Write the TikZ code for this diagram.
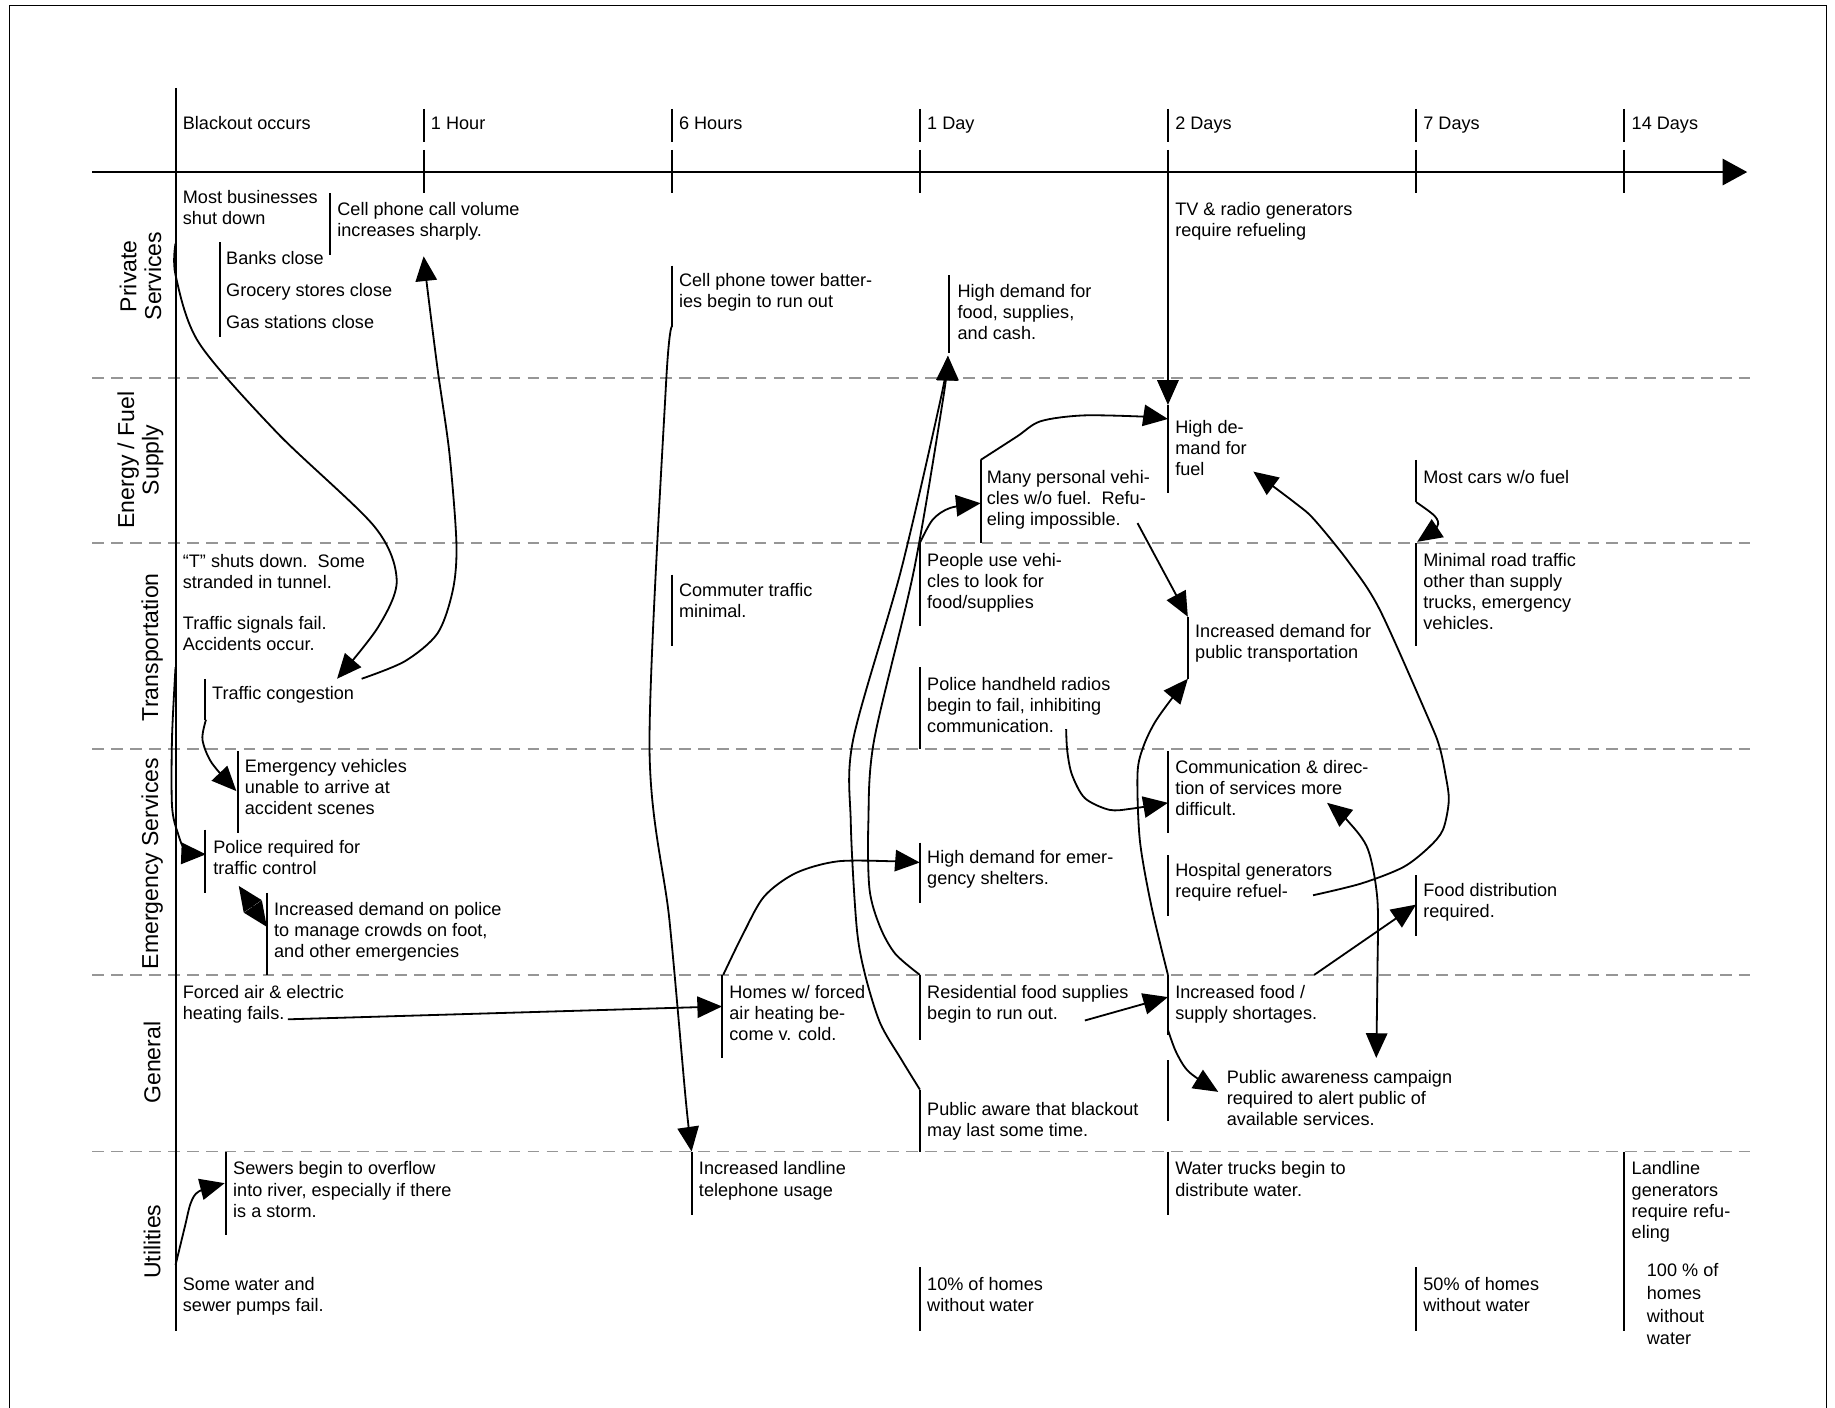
\documentclass[tikz,border=0pt]{standalone}
\usepackage{fontspec}
\setmainfont{Liberation Sans}
\usepackage{tikz}
\usetikzlibrary{arrows.meta}
\definecolor{rowline}{RGB}{150,150,150}
\newcommand{\evtext}[1]{\begin{tabular}[t]{@{}l@{}}#1\end{tabular}}
\tikzset{
  ev/.style={anchor=base west, inner sep=0pt, font=\fontsize{11}{12.8}\selectfont},
  row/.style={rotate=90, align=center, inner sep=0pt, font=\fontsize{14}{15}\selectfont},
  bar/.style={line width=1.2pt},
  link/.style={line width=1.1pt, -{Triangle[length=15pt,width=13pt]}},
  both/.style={line width=1.1pt, {Triangle[length=15pt,width=13pt]}-{Triangle[length=15pt,width=13pt]}},
  divider/.style={rowline, line width=1pt, dash pattern=on 7pt off 4.5pt}
}

\begin{document}
\begin{tikzpicture}[x=0.025cm, y=-0.025cm]
\useasboundingbox (0,0) rectangle (1568,1203);
\draw[line width=0.6pt] (8,1203) -- (8,5) -- (1561,5) -- (1561,1203);

\foreach \y in {323,464,640,833,984}
  \draw[divider] (79,\y) -- (1495,\y);

\draw[line width=1.4pt, -{Triangle[length=15pt,width=16pt]}] (79,147) -- (1493,147);
\draw[bar] (150,75) -- (150,1137);
\node[ev] (t0) at (156,111) {Blackout occurs};
\foreach \x/\t [count=\i] in {362/1 Hour, 574/6 Hours, 786/1 Day, 998/2 Days, 1210/7 Days, 1388/14 Days} {
  \draw[bar] (\x,93) -- (\x,121);
  \draw[bar] (\x,128) -- (\x,165);
  \node[ev] (tick\i) at (\x+6,111) {\t};
}

\node[row] (lpriv) at (120,236) {Private\\Services};
\node[row] (lfuel) at (120,393) {Energy / Fuel\\Supply};
\node[row] (ltrans) at (130,553) {Transportation};
\node[row] (lemerg) at (130,738) {Emergency Services};
\node[row] (lgen) at (130,908) {General};
\node[row] (lutil) at (130,1061) {Utilities};

\node[ev] (shut) at (156,174) {\evtext{Most businesses\\shut down}};
\draw[bar] (282,165) -- (282,218);
\node[ev] (cell) at (288,184) {\evtext{Cell phone call volume\\increases sharply.}};
\draw[bar] (188,207) -- (188,288);
\node[ev, font=\fontsize{11}{19.4}\selectfont] (close) at (193,226) {\evtext{Banks close\\Grocery stores close\\Gas stations close}};
\draw[bar] (998,165) -- (998,218);
\node[ev] (tvgen) at (1004,184) {\evtext{TV \& radio generators\\require refueling}};
\draw[bar] (574,227) -- (574,279);
\node[ev] (tower) at (580,245) {\evtext{Cell phone tower batter-\\ies begin to run out}};
\draw[bar] (811,235) -- (811,302);
\node[ev] (hdfood) at (818,254) {\evtext{High demand for\\food, supplies,\\and cash.}};

\draw[bar] (998,346) -- (998,421);
\node[ev] (hdfuel) at (1004,370) {\evtext{High de-\\mand for\\fuel}};
\draw[bar] (838,393) -- (838,464);
\node[ev] (nofuel) at (843,413) {\evtext{Many personal vehi-\\cles w/o fuel.\ \ Refu-\\eling impossible.}};
\draw[bar] (1210,393) -- (1210,429);
\node[ev] (mostcars) at (1216,413) {Most cars w/o fuel};

\node[ev] (tdown) at (156,485) {\evtext{“T” shuts down.\ \ Some\\stranded in tunnel.}};
\node[ev] (signals) at (156,538) {\evtext{Traffic signals fail.\\Accidents occur.}};
\draw[bar] (175,580) -- (175,615);
\node[ev] (congest) at (181,598) {Traffic congestion};
\draw[bar] (574,491) -- (574,552);
\node[ev] (commute) at (580,510) {\evtext{Commuter traffic\\minimal.}};
\draw[bar] (786,464) -- (786,535);
\node[ev] (search) at (792,484) {\evtext{People use vehi-\\cles to look for\\food/supplies}};
\draw[bar] (786,570) -- (786,640);
\node[ev] (radios) at (792,590) {\evtext{Police handheld radios\\begin to fail, inhibiting\\communication.}};
\draw[bar] (1015,527) -- (1015,580);
\node[ev] (transit) at (1021,545) {\evtext{Increased demand for\\public transportation}};
\draw[bar] (1210,464) -- (1210,552);
\node[ev] (minroad) at (1216,484) {\evtext{Minimal road traffic\\other than supply\\trucks, emergency\\vehicles.}};

\draw[bar] (203,642) -- (203,712);
\node[ev] (evunable) at (209,660) {\evtext{Emergency vehicles\\unable to arrive at\\accident scenes}};
\draw[bar] (175,709) -- (175,763);
\node[ev] (police) at (182,729) {\evtext{Police required for\\traffic control}};
\draw[bar] (228,763) -- (228,833);
\node[ev] (crowds) at (234,782) {\evtext{Increased demand on police\\to manage crowds on foot,\\and other emergencies}};
\draw[bar] (998,642) -- (998,712);
\node[ev] (comms) at (1004,661) {\evtext{Communication \& direc-\\tion of services more\\difficult.}};
\draw[bar] (786,720) -- (786,772);
\node[ev] (shelter) at (792,738) {\evtext{High demand for emer-\\gency shelters.}};
\draw[bar] (998,731) -- (998,783);
\node[ev] (hospital) at (1004,749) {\evtext{Hospital generators\\require refuel-}};
\draw[bar] (1210,748) -- (1210,800);
\node[ev] (fooddist) at (1216,766) {\evtext{Food distribution\\required.}};

\node[ev] (heating) at (156,853) {\evtext{Forced air \& electric\\heating fails.}};
\draw[bar] (617,833) -- (617,904);
\node[ev] (cold) at (623,853) {\evtext{Homes w/ forced\\air heating be-\\come v. cold.}};
\draw[bar] (786,833) -- (786,889);
\node[ev] (runout) at (792,853) {\evtext{Residential food supplies\\begin to run out.}};
\draw[bar] (998,833) -- (998,884);
\node[ev] (shortage) at (1004,853) {\evtext{Increased food /\\supply shortages.}};
\draw[bar] (998,906) -- (998,958);
\node[ev] (campaign) at (1048,926) {\evtext{Public awareness campaign\\required to alert public of\\available services.}};
\draw[bar] (786,931) -- (786,984);
\node[ev] (aware) at (792,953) {\evtext{Public aware that blackout\\may last some time.}};

\draw[bar] (193,984) -- (193,1055);
\node[ev] (sewers) at (199,1004) {\evtext{Sewers begin to overflow\\into river, especially if there\\is a storm.}};
\node[ev] (pumps) at (156,1103) {\evtext{Some water and\\sewer pumps fail.}};
\draw[bar] (591,984) -- (591,1038);
\node[ev] (landline) at (597,1004) {\evtext{Increased landline\\telephone usage}};
\draw[bar] (998,984) -- (998,1038);
\node[ev] (trucks) at (1004,1004) {\evtext{Water trucks begin to\\distribute water.}};
\draw[bar] (1388,984) -- (1388,1137);
\node[ev] (landgen) at (1394,1004) {\evtext{Landline\\generators\\require refu-\\eling}};
\node[ev, font=\fontsize{11}{13.8}\selectfont] (nowater) at (1407,1091) {\evtext{100 \% of\\homes\\without\\water}};
\draw[bar] (786,1083) -- (786,1137);
\node[ev] (tenpc) at (792,1103) {\evtext{10\% of homes\\without water}};
\draw[bar] (1210,1083) -- (1210,1137);
\node[ev] (fiftypc) at (1216,1103) {\evtext{50\% of homes\\without water}};

\coordinate (shutOut) at (150,208);
\coordinate (congIn) at (288,580);
\coordinate (congOut) at (309,580);
\coordinate (cellIn) at (362,219);
\coordinate (axisOut) at (150,570);
\coordinate (policeIn) at (176,730);
\coordinate (congB) at (176,615);
\coordinate (evIn) at (202,676);
\coordinate (policeS) at (204,757);
\coordinate (crowdsN) at (228,792);
\coordinate (heatOut) at (246,871);
\coordinate (coldIn) at (617,860);
\coordinate (towerB) at (574,279);
\coordinate (landT) at (591,984);
\coordinate (runoutT) at (786,833);
\coordinate (awareT) at (786,931);
\coordinate (hdfoodB) at (810,304);
\coordinate (searchT) at (786,464);
\coordinate (nofuelIn) at (838,430);
\coordinate (nofuelT) at (838,393);
\coordinate (hdfuelIn) at (998,358);
\coordinate (tvB) at (998,218);
\coordinate (hdfuelT) at (998,346);
\coordinate (nofuelOut) at (972,447);
\coordinate (transitT) at (1015,527);
\coordinate (shortT) at (998,833);
\coordinate (transitB) at (1015,580);
\coordinate (shortB) at (998,880);
\coordinate (campIn) at (1041,933);
\coordinate (radiosOut) at (911,623);
\coordinate (commsIn) at (998,686);
\coordinate (coldT) at (618,833);
\coordinate (shelterIn) at (786,737);
\coordinate (runoutOut) at (927,872);
\coordinate (shortIn) at (998,852);
\coordinate (shortOut) at (1123,833);
\coordinate (distIn) at (1210,773);
\coordinate (commsBelow) at (1134,686);
\coordinate (campAbove) at (1176,904);
\coordinate (hospOut) at (1122,765);
\coordinate (hdfuelOut) at (1071,403);
\coordinate (carsB) at (1210,429);
\coordinate (minroadT) at (1211,463);
\coordinate (pumpsOut) at (150,1081);
\coordinate (sewersIn) at (192,1011);

\draw[link] plot[smooth] coordinates {(shutOut) (150,235) (170,293) (237,370) (320,450) (339,496) (323,536) (congIn)};
\draw[link] plot[smooth] coordinates {(congOut) (346,565) (374,541) (387,504) (390,464) (384,387) (374,316) (365,245) (cellIn)};
\draw[link] plot[smooth] coordinates {(axisOut) (147,630) (147,689) (152,712) (159,727) (policeIn)};
\draw[link] plot[smooth] coordinates {(congB) (173,632) (181,652) (evIn)};
\draw[both] (policeS) -- (crowdsN);
\draw[link] (heatOut) -- (coldIn);
\draw[link] plot[smooth] coordinates {(towerB) (569,330) (555,638) (572,786) (586,940) (landT)};
\draw[link] plot[smooth] coordinates {(runoutT) (765,815) (752,792) (743,760) (742,703) (747,632) (781,487) (806,340) (hdfoodB)};
\draw[link] plot[smooth] coordinates {(awareT) (770,905) (752,874) (739,832) (732,792) (727,703) (729,632) (770,487) (804,340) (hdfoodB)};
\draw[link] plot[smooth] coordinates {(searchT) (797,444) (812,434) (nofuelIn)};
\draw[link] plot[smooth] coordinates {(nofuelT) (869,373) (889,360) (925,355) (977,356) (hdfuelIn)};
\draw[link] (tvB) -- (hdfuelT);
\draw[link] (nofuelOut) -- (transitT);
\draw[link] plot[smooth] coordinates {(shortT) (984,775) (974,718) (972,661) (977,638) (987,617) (1002,596) (transitB)};
\draw[link] plot[smooth] coordinates {(shortB) (1005,899) (1016,916) (campIn)};
\draw[link] plot[smooth] coordinates {(radiosOut) (912,642) (916,662) (927,682) (948,692) (967,691) (commsIn)};
\draw[link] plot[smooth] coordinates {(coldT) (635,798) (653,766) (680,746) (716,736) (765,736) (shelterIn)};
\draw[link] (runoutOut) -- (shortIn);
\draw[link] (shortOut) -- (distIn);
\draw[both] plot[smooth] coordinates {(commsBelow) (1153,703) (1169,726) (1177,769) (1177,832) (campAbove)};
\draw[link] plot[smooth] coordinates {(hospOut) (1163,755) (1199,741) (1221,724) (1233,709) (1238,684) (1235,661) (1230,638) (1221,615) (1179,521) (1153,481) (1123,444) (1107,430) (hdfuelOut)};
\draw[link] plot[smooth] coordinates {(carsB) (1226,441) (1228,450) (minroadT)};
\draw[link] plot[smooth] coordinates {(pumpsOut) (158,1048) (163,1028) (170,1018) (sewersIn)};
\end{tikzpicture}
\end{document}
